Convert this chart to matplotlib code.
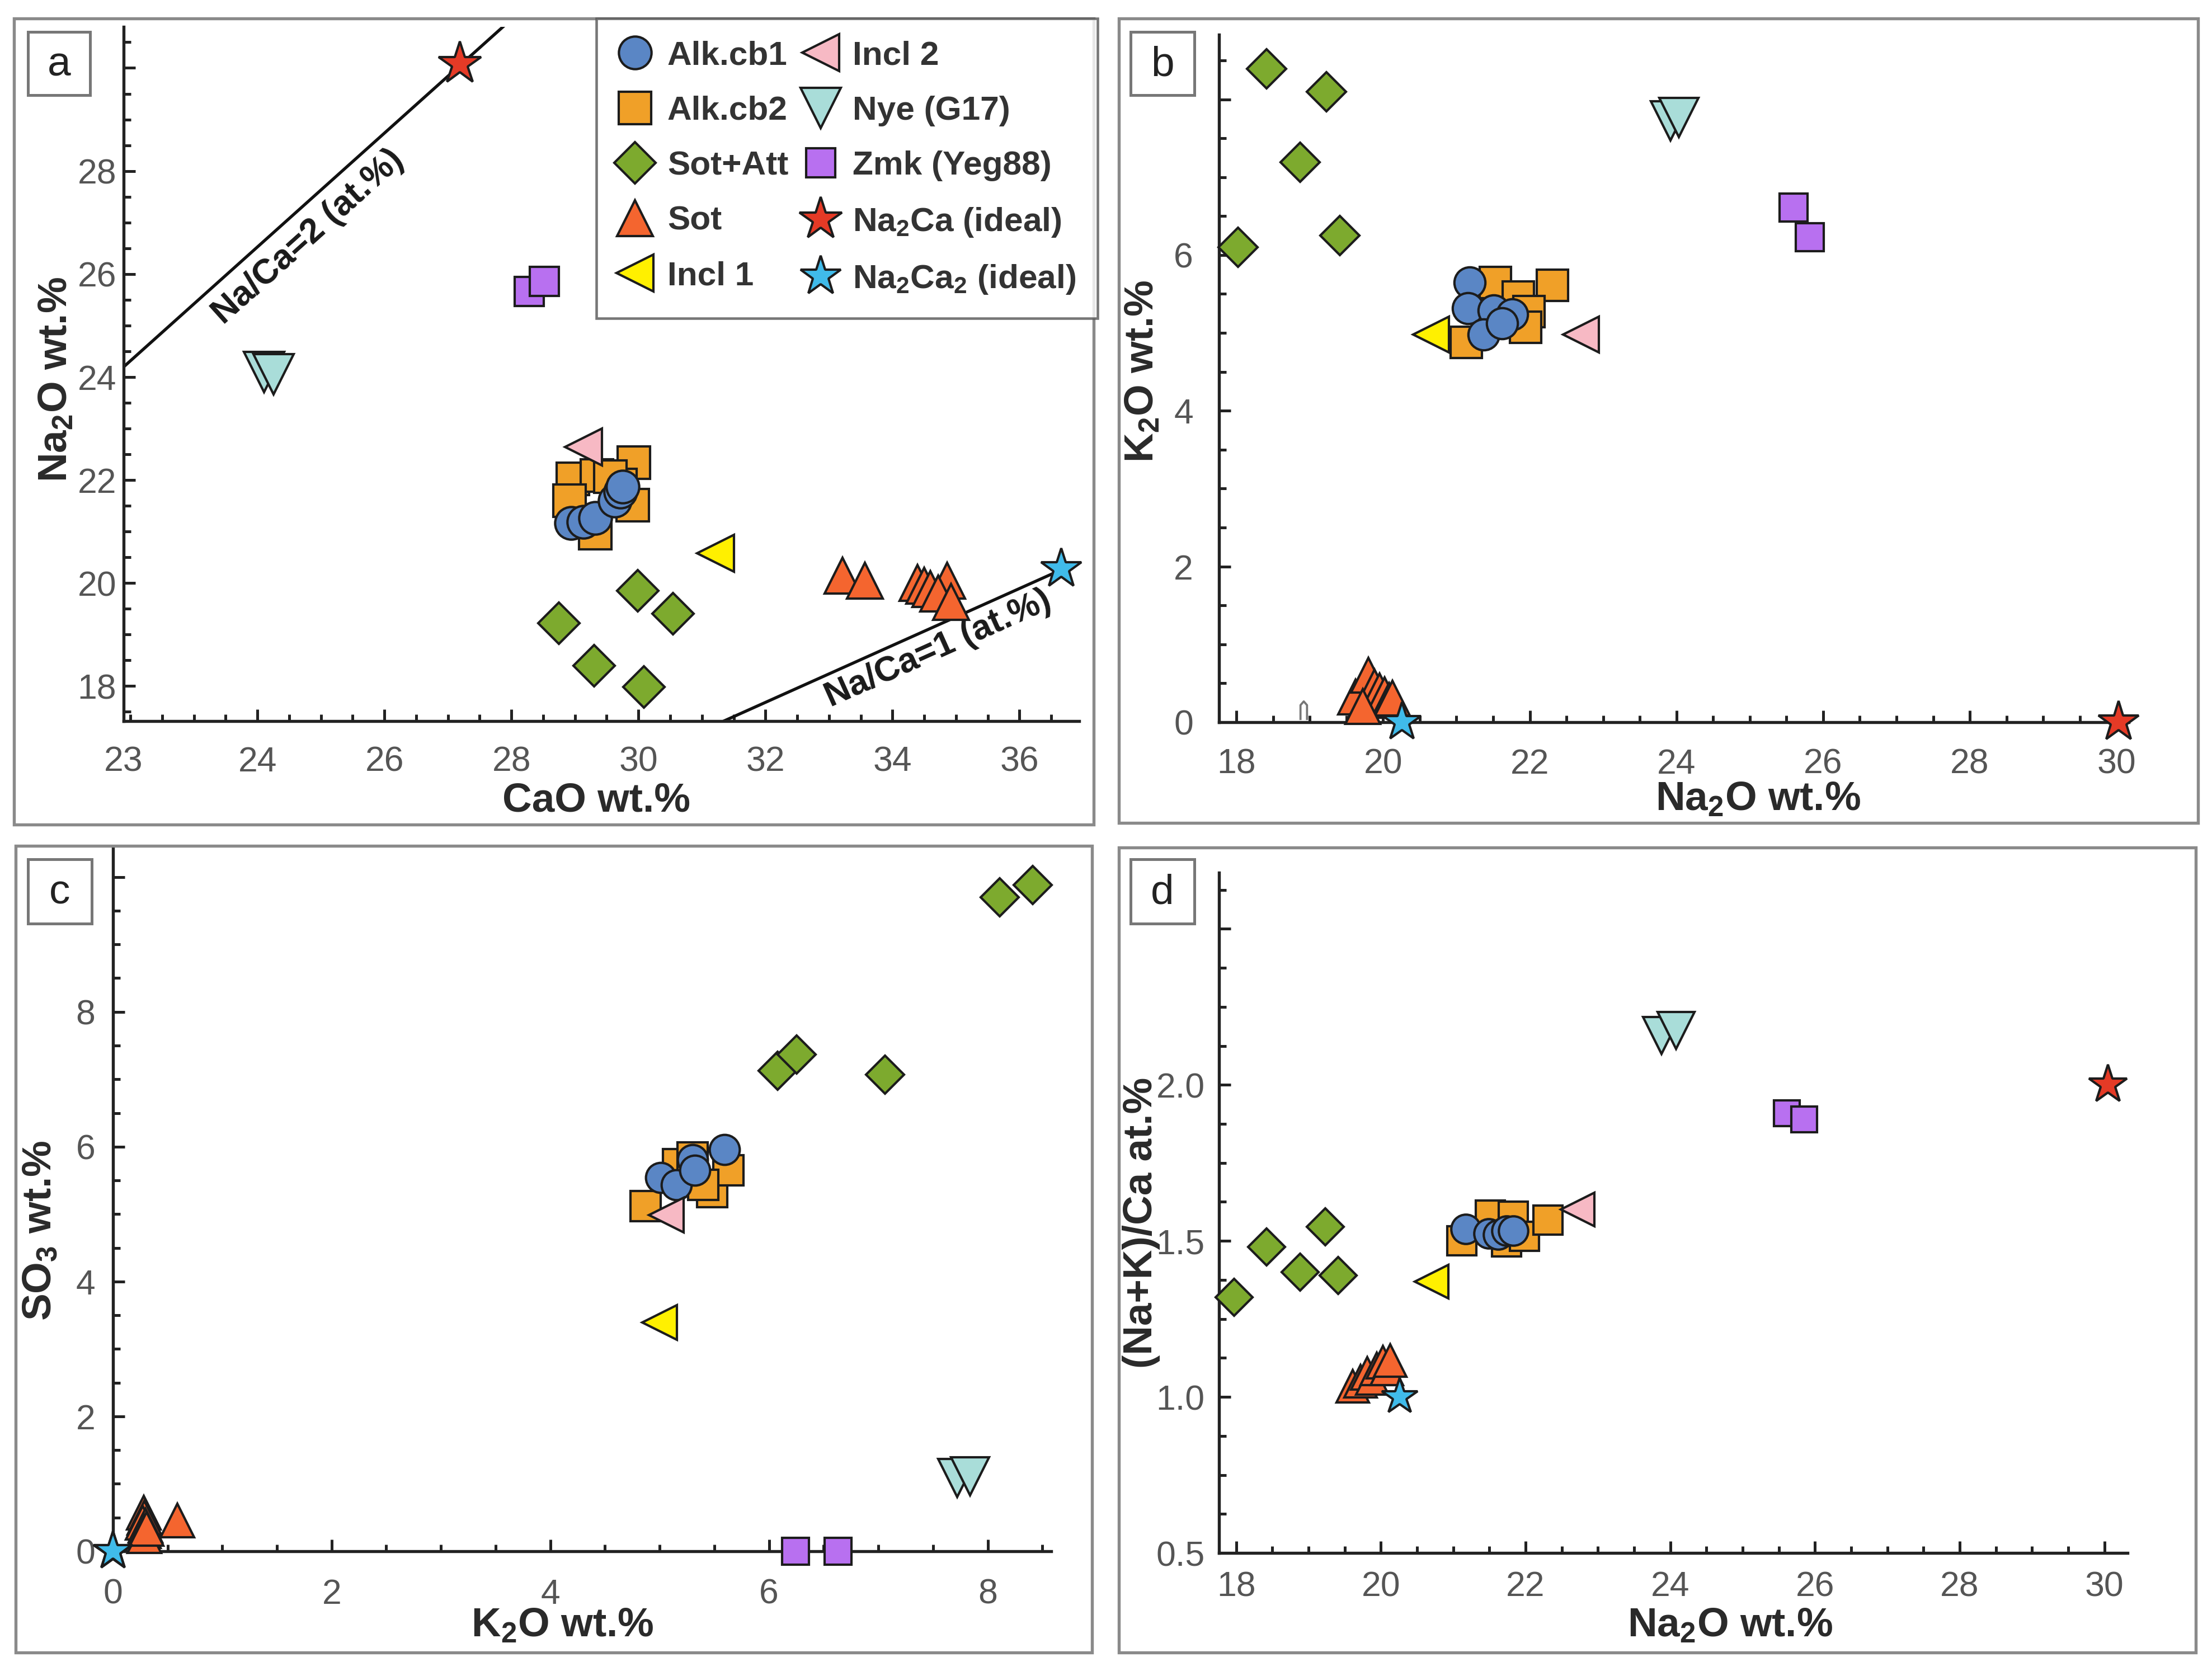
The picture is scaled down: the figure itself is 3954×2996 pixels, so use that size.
import numpy as np
import matplotlib
matplotlib.use("Agg")
import matplotlib.pyplot as plt
from matplotlib.lines import Line2D
from matplotlib.patches import Rectangle
from matplotlib.path import Path
from matplotlib.ticker import MultipleLocator

W, H, DPI = 3954, 2996, 300

# ---- panel a: CaO (x) vs Na2O (y), wt.% ----
ALK1_A = ([28.94, 29.13, 29.32, 29.63, 29.72, 29.75], [21.17, 21.19, 21.26, 21.60, 21.77, 21.87])
ALK2_A = ([29.93, 28.97, 29.35, 28.91, 29.32, 29.72, 29.91, 29.56], [22.34, 22.02, 22.09, 21.60, 20.97, 21.90, 21.51, 22.07])
SOTATT_A = ([28.75, 29.30, 29.99, 30.54, 30.09], [19.22, 18.39, 19.85, 19.41, 17.98])
SOT_A = ([33.21, 33.57, 34.39, 34.50, 34.60, 34.86, 34.72, 34.92], [20.14, 20.05, 20.00, 19.95, 19.88, 20.05, 19.80, 19.63])
INCL1_A = ([31.21], [20.58])
INCL2_A = ([29.13], [22.64])
NYE_A = ([24.10, 24.25], [24.10, 24.05])
ZMK_A = ([28.28, 28.52], [25.66, 25.86])
NA2CA_A = ([27.19], [30.08])
NA2CA2_A = ([36.66], [20.27])

# ---- panel b: Na2O (x) vs K2O (y) ----
ALK1_B = ([21.18, 21.16, 21.51, 21.37, 21.76, 21.62], [5.65, 5.32, 5.29, 4.98, 5.24, 5.12])
ALK2_B = ([22.31, 21.13, 21.53, 21.84, 21.99, 21.94], [5.61, 4.88, 5.65, 5.46, 5.27, 5.07])
SOTATT_B = ([18.41, 19.23, 18.87, 18.02, 19.41], [8.39, 8.10, 7.19, 6.10, 6.25])
SOT_B = ([19.62, 19.80, 19.88, 19.95, 20.02, 20.08, 20.13, 19.72], [0.32, 0.60, 0.45, 0.40, 0.35, 0.28, 0.31, 0.20])
INCL1_B = ([20.65], [4.98])
INCL2_B = ([22.70], [4.98])
NYE_B = ([23.92, 24.03], [7.72, 7.77])
ZMK_B = ([25.60, 25.82], [6.61, 6.23])
NA2CA_B = ([30.03], [0.0])
NA2CA2_B = ([20.26], [0.0])
STRAY_B = ([18.91], [0.15])

# ---- panel c: K2O (x) vs SO3 (y) ----
ALK1_C = ([5.01, 5.15, 5.30, 5.32, 5.59], [5.54, 5.43, 5.81, 5.65, 5.96])
ALK2_C = ([4.87, 5.17, 5.48, 5.63, 5.30, 5.40], [5.12, 5.74, 5.33, 5.65, 5.84, 5.43])
SOTATT_C = ([8.11, 8.41, 6.08, 6.25, 7.06], [9.70, 9.88, 7.13, 7.37, 7.07])
SOT_C = ([0.28, 0.29, 0.27, 0.30, 0.28, 0.29, 0.31, 0.59], [0.57, 0.50, 0.42, 0.38, 0.30, 0.22, 0.33, 0.46])
INCL1_C = ([5.00], [3.39])
INCL2_C = ([5.06], [4.99])
NYE_C = ([7.72, 7.84], [1.09, 1.11])
ZMK_C = ([6.24, 6.63], [0.0, 0.0])
NA2CA_C = ([0.0], [0.0])
NA2CA2_C = ([0.0], [0.0])

# ---- panel d: Na2O (x) vs (Na+K)/Ca at.% (y) ----
ALK1_D = ([21.17, 21.49, 21.62, 21.74, 21.83], [1.538, 1.524, 1.520, 1.532, 1.532])
ALK2_D = ([21.12, 21.51, 21.83, 21.74, 21.98, 22.31], [1.500, 1.583, 1.580, 1.497, 1.515, 1.567])
SOTATT_D = ([17.97, 18.42, 18.88, 19.23, 19.41], [1.32, 1.48, 1.40, 1.545, 1.39])
SOT_D = ([19.61, 19.72, 19.81, 19.88, 19.94, 20.03, 20.08, 20.13], [1.034, 1.050, 1.075, 1.060, 1.090, 1.111, 1.090, 1.117])
INCL1_D = ([20.70], [1.37])
INCL2_D = ([22.72], [1.60])
NYE_D = ([23.88, 24.08], [2.158, 2.175])
ZMK_D = ([25.61, 25.85], [1.91, 1.89])
NA2CA_D = ([30.05], [2.0])
NA2CA2_D = ([20.26], [1.0])

# molar masses for the Na/Ca reference lines
M_NA2O, M_CAO = 61.98, 56.08
NA_CA_RATIOS = [2, 1]

GROUPS = ["alk2", "alk1", "sotatt", "sot", "incl1", "incl2", "nye", "zmk", "na2ca", "na2ca2"]
STYLES = {
    "alk1": dict(marker="o", ms=14.0, color="#5A86C5", label="Alk.cb1"),
    "alk2": dict(marker="s", ms=14.0, color="#F0A028", label="Alk.cb2"),
    "sotatt": dict(marker="D", ms=12.5, color="#7DAA2E", label="Sot+Att"),
    "sot": dict(marker="^", ms=15.5, color="#F4652F", label="Sot"),
    "incl1": dict(marker="<", ms=16.0, color="#FFF000", label="Incl 1"),
    "incl2": dict(marker="<", ms=16.0, color="#F7B9C4", label="Incl 2"),
    "nye": dict(marker="v", ms=17.5, color="#A9DDD9", label="Nye (G17)"),
    "zmk": dict(marker="s", ms=12.5, color="#B870F0", label="Zmk (Yeg88)"),
    "na2ca": dict(marker="*", ms=19.0, color="#E53A26", label="Na$_2$Ca (ideal)"),
    "na2ca2": dict(marker="*", ms=18.0, color="#40BBEA", label="Na$_2$Ca$_2$ (ideal)"),
}
LEGEND_ORDER = ["alk1", "alk2", "sotatt", "sot", "incl1", "incl2", "nye", "zmk", "na2ca", "na2ca2"]

plt.rcParams["font.family"] = ["Liberation Sans", "DejaVu Sans"]
plt.rcParams["mathtext.default"] = "regular"


def fx(px):
    return px / W


def fy(py):
    return 1 - py / H


def _rect(l, t, r, b):
    return [fx(l), fy(b), fx(r) - fx(l), fy(t) - fy(b)]


def _points(ax, key, data, scale=1.0, z=3):
    st = STYLES[key]
    ax.plot(data[0], data[1], linestyle="none", marker=st["marker"], ms=st["ms"] * scale,
            mfc=st["color"], mec="#1c1c1c", mew=1.0, clip_on=False, zorder=z)


def _setup(ax, xlim, ylim, xticks, xlabels, yticks, ylabels, xminor, yminor, xpad, ypad):
    ax.set_xlim(*xlim)
    ax.set_ylim(*ylim)
    ax.set_xticks(xticks, xlabels)
    ax.set_yticks(yticks, ylabels)
    ax.xaxis.set_minor_locator(MultipleLocator(xminor))
    ax.yaxis.set_minor_locator(MultipleLocator(yminor))
    for s in ["top", "right"]:
        ax.spines[s].set_visible(False)
    for s in ["left", "bottom"]:
        ax.spines[s].set_linewidth(1.3)
        ax.spines[s].set_color("#222222")
    ax.tick_params(which="both", direction="in", color="#222222", labelcolor="#555555",
                   labelsize=15, width=1.2)
    ax.tick_params(which="major", length=5)
    ax.tick_params(which="minor", length=3)
    ax.tick_params(axis="x", pad=xpad)
    ax.tick_params(axis="y", pad=ypad)
    ax.patch.set_alpha(0)


def _draw_panel(ax, sets, scale):
    for z, key in enumerate(GROUPS):
        if key in sets:
            _points(ax, key, sets[key], scale, z=3 + z)


fig = plt.figure(figsize=(W / DPI, H / DPI), dpi=DPI)

# panel frames and letter boxes
frames = [(25, 33, 1955, 1474), (2000, 33, 3929, 1471), (28, 1512, 1952, 2954), (2000, 1515, 3925, 2954)]
for l, t, r, b in frames:
    fig.patches.append(Rectangle((fx(l), fy(b)), fx(r) - fx(l), fy(t) - fy(b), transform=fig.transFigure,
                                 fill=False, edgecolor="#8a8a8a", linewidth=1.3))
letters = [("a", 50, 57, 161, 170), ("b", 2021, 57, 2135, 170), ("c", 50, 1536, 164, 1651), ("d", 2021, 1536, 2135, 1651)]
for s, l, t, r, b in letters:
    fig.patches.append(Rectangle((fx(l), fy(b)), fx(r) - fx(l), fy(t) - fy(b), transform=fig.transFigure,
                                 facecolor="white", edgecolor="#777777", linewidth=1.2, zorder=5))
    fig.text(fx((l + r) / 2), fy((t + b) / 2 + 3), s, ha="center", va="center", fontsize=18,
             color="#222222", zorder=6)

# ---- a ----
ax_a = fig.add_axes(_rect(220.7, 47.8, 1929, 1289))
_setup(ax_a, (21.89, 36.94), (17.32, 30.8),
       [21.89, 24, 26, 28, 30, 32, 34, 36], ["23", "24", "26", "28", "30", "32", "34", "36"],
       [18, 20, 22, 24, 26, 28, 30], ["18", "20", "22", "24", "26", "28", ""], 0.5, 0.5, 10.5, 3)
xline = np.array(ax_a.get_xlim())
slope2 = NA_CA_RATIOS[0] * M_NA2O / (2 * M_CAO)
slope1 = NA_CA_RATIOS[1] * M_NA2O / (2 * M_CAO)
ax_a.plot(xline, slope2 * xline, color="#111111", lw=1.3, zorder=2)
x1 = np.array([xline[0], NA2CA2_A[0][0]])
ax_a.plot(x1, slope1 * x1, color="#111111", lw=1.3, zorder=2)
ax_a.text(24.80, 26.72, "Na/Ca=2 (at.%)", rotation=np.degrees(np.arctan(slope2)), transform_rotates_text=True,
          rotation_mode="anchor", ha="center", va="center", fontsize=15, fontweight="bold", color="#1a1a1a")
ax_a.text(34.72, 18.72, "Na/Ca=1 (at.%)", rotation=np.degrees(np.arctan(slope1)), transform_rotates_text=True,
          rotation_mode="anchor", ha="center", va="center", fontsize=15, fontweight="bold", color="#1a1a1a")
_draw_panel(ax_a, dict(alk1=ALK1_A, alk2=ALK2_A, sotatt=SOTATT_A, sot=SOT_A, incl1=INCL1_A, incl2=INCL2_A,
                       nye=NYE_A, zmk=ZMK_A, na2ca=NA2CA_A, na2ca2=NA2CA2_A), 1.0)

# ---- b ----
ax_b = fig.add_axes(_rect(2178.8, 62, 3805.5, 1291))
_setup(ax_b, (17.76, 30.17), (0, 8.83),
       [18, 20, 22, 24, 26, 28, 30], ["18", "20", "22", "24", "26", "28", "30"],
       [0, 2, 4, 6, 8], ["0", "2", "4", "6", ""], 0.5, 0.5, 11, 11)
stray = Path([(-0.35, -1), (-0.35, 0.6), (0, 1), (0.35, 0.6), (0.35, -1)],
             [Path.MOVETO, Path.LINETO, Path.LINETO, Path.LINETO, Path.LINETO])
ax_b.plot(STRAY_B[0], STRAY_B[1], linestyle="none", marker=stray, ms=8, mfc="none", mec="#777777", mew=0.9)
_draw_panel(ax_b, dict(alk1=ALK1_B, alk2=ALK2_B, sotatt=SOTATT_B, sot=SOT_B, incl1=INCL1_B, incl2=INCL2_B,
                       nye=NYE_B, zmk=ZMK_B, na2ca=NA2CA_B, na2ca2=NA2CA2_B), 0.95)

# ---- c ----
ax_c = fig.add_axes(_rect(201.8, 1517, 1879, 2773))
_setup(ax_c, (0, 8.58), (0, 10.42),
       [0, 2, 4, 6, 8], ["0", "2", "4", "6", "8"],
       [0, 2, 4, 6, 8, 10], ["0", "2", "4", "6", "8", ""], 0.5, 0.5, 11.5, 7.5)
_draw_panel(ax_c, dict(alk1=ALK1_C, alk2=ALK2_C, sotatt=SOTATT_C, sot=SOT_C, incl1=INCL1_C, incl2=INCL2_C,
                       nye=NYE_C, zmk=ZMK_C, na2ca=NA2CA_C, na2ca2=NA2CA2_C), 0.92)

# ---- d ----
ax_d = fig.add_axes(_rect(2178.8, 1560, 3803, 2776))
_setup(ax_d, (17.76, 30.32), (0.5, 2.68),
       [18, 20, 22, 24, 26, 28, 30], ["18", "20", "22", "24", "26", "28", "30"],
       [0.5, 1.0, 1.5, 2.0, 2.5], ["0.5", "1.0", "1.5", "2.0", ""], 0.5, 0.125, 7.5, 6)
_draw_panel(ax_d, dict(alk1=ALK1_D, alk2=ALK2_D, sotatt=SOTATT_D, sot=SOT_D, incl1=INCL1_D, incl2=INCL2_D,
                       nye=NYE_D, zmk=ZMK_D, na2ca=NA2CA_D, na2ca2=NA2CA2_D), 0.9)

# axis titles
lab = dict(fontsize=17.5, fontweight="bold", color="#2a2a2a", ha="center", va="center")
fig.text(fx(1066), fy(1432), "CaO wt.%", **lab)
fig.text(fx(101), fy(678), "Na$_2$O wt.%", rotation=90, **lab)
fig.text(fx(3143), fy(1430), "Na$_2$O wt.%", **lab)
fig.text(fx(2043), fy(664), "K$_2$O wt.%", rotation=90, **lab)
fig.text(fx(1005), fy(2907), "K$_2$O wt.%", **lab)
fig.text(fx(72), fy(2200), "SO$_3$ wt.%", rotation=90, **lab)
fig.text(fx(3093), fy(2907), "Na$_2$O wt.%", **lab)
fig.text(fx(2040), fy(2186), "(Na+K)/Ca at.%", rotation=90, **lab)

# legend
handles = []
for key in LEGEND_ORDER:
    st = STYLES[key]
    handles.append(Line2D([], [], linestyle="none", marker=st["marker"], ms=st["ms"], mfc=st["color"],
                          mec="#1c1c1c", mew=1.0, label=st["label"]))
leg = fig.legend(handles=handles, ncol=2, loc="upper left", bbox_to_anchor=(fx(1066), fy(33)),
                 borderaxespad=0, frameon=True, fancybox=False, edgecolor="#555555",
                 prop=dict(size=14.5, weight="bold"), labelcolor="#333333",
                 borderpad=0.65, labelspacing=0.72, handlelength=1.0, handletextpad=0.45,
                 columnspacing=0.45)
leg.get_frame().set_linewidth(1.1)

fig.savefig("out.png", dpi=DPI)
